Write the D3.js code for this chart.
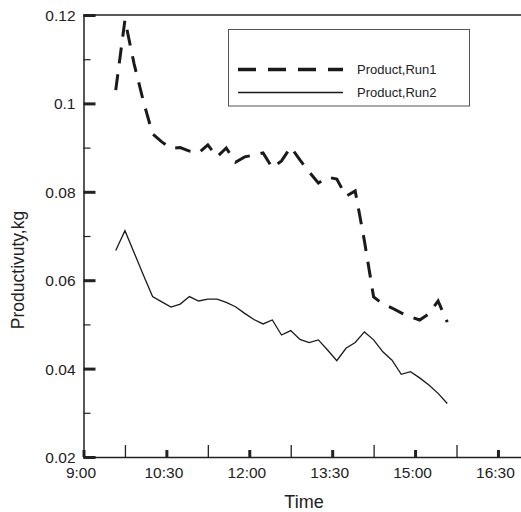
<!DOCTYPE html>
<html>
<head>
<meta charset="utf-8">
<script src="https://cdn.jsdelivr.net/npm/d3@7"></script>
<style>
  body { margin: 0; background: #fff; }
  svg text { font-family: "Liberation Sans", Arial, sans-serif; fill: #222; }
</style>
</head>
<body>
<div id="chart"></div>
<script>
// sample times (every 10 min)
const times = ["9:35","9:45","9:55","10:05","10:15","10:25","10:35","10:45","10:55","11:05",
  "11:15","11:25","11:35","11:45","11:55","12:05","12:15","12:25","12:35","12:45",
  "12:55","13:05","13:15","13:25","13:35","13:45","13:55","14:05","14:15","14:25",
  "14:35","14:45","14:55","15:05","15:15","15:25","15:35"];

// Product, Run1 (dashed)
const run1 = [0.1030,0.1189,0.1089,0.1005,0.0931,0.0913,0.0898,0.0900,0.0892,0.0888,
  0.0906,0.0879,0.0899,0.0867,0.0879,0.0883,0.0888,0.0854,0.0870,0.0901,
  0.0872,0.0845,0.0820,0.0833,0.0829,0.0790,0.0802,0.0689,0.0562,0.0546,
  0.0537,0.0526,0.0517,0.0510,0.0524,0.0553,0.0505];

// Product, Run2 (solid)
const run2 = [0.0667,0.0712,0.0662,0.0612,0.0563,0.0551,0.0539,0.0546,0.0563,0.0553,
  0.0557,0.0557,0.0550,0.0540,0.0525,0.0511,0.0501,0.0510,0.0476,0.0486,
  0.0466,0.0459,0.0465,0.0442,0.0418,0.0446,0.0459,0.0483,0.0465,0.0438,
  0.0419,0.0387,0.0393,0.0379,0.0363,0.0344,0.0321];

const xMajor = ["9:00","10:30","12:00","13:30","15:00","16:30"];
const xMinor = ["9:45","11:15","12:45","14:15","15:45"];
const yMajor = [0.02, 0.04, 0.06, 0.08, 0.1, 0.12];
const yMinor = [0.03, 0.05, 0.07, 0.09, 0.11];
const yLabels = ["0.02","0.04","0.06","0.08","0.1","0.12"];
const seriesNames = ["Product,Run1", "Product,Run2"];

const W = 521, H = 512;
const parse = d3.timeParse("%H:%M");

const svg = d3.select("#chart").append("svg")
    .attr("width", W)
    .attr("height", H);

const x = d3.scaleTime()
    .domain([parse("9:00"), parse("17:15")])
    .range([83.5, 539.4]);
const y = d3.scaleLinear()
    .domain([0.02, 0.12])
    .range([457, 15]);

// frame (top + right, right is off-screen)
svg.append("line")
    .attr("x1", 83.5).attr("x2", W)
    .attr("y1", y(0.12)).attr("y2", y(0.12))
    .attr("stroke", "#222").attr("stroke-width", 1.5);

// x axis: minor ticks (tall thin)
svg.append("g")
    .attr("transform", "translate(0," + y(0.02) + ")")
    .call(d3.axisBottom(x).tickValues(xMinor.map(parse)).tickSize(-12).tickFormat(""))
    .call(g => g.select(".domain").remove())
    .call(g => g.selectAll(".tick line").attr("stroke", "#222").attr("stroke-width", 1.3));

// x axis: major ticks (short thick)
svg.append("g")
    .attr("transform", "translate(0," + y(0.02) + ")")
    .call(d3.axisBottom(x).tickValues(xMajor.map(parse)).tickSize(-7).tickFormat((d, i) => xMajor[i]))
    .call(g => g.select(".domain").attr("stroke", "#222").attr("stroke-width", 1.5))
    .call(g => g.selectAll(".tick line").attr("stroke", "#222").attr("stroke-width", 3))
    .call(g => g.selectAll(".tick text")
        .attr("y", 21).attr("dx", -3).attr("dy", 0)
        .style("font-size", "15.5px").style("fill", "#222"));

// y axis: minor ticks
svg.append("g")
    .attr("transform", "translate(83.5,0)")
    .call(d3.axisLeft(y).tickValues(yMinor).tickSize(-7).tickFormat(""))
    .call(g => g.select(".domain").remove())
    .call(g => g.selectAll(".tick line").attr("stroke", "#222").attr("stroke-width", 1.2));

// y axis: major ticks
svg.append("g")
    .attr("transform", "translate(83.5,0)")
    .call(d3.axisLeft(y).tickValues(yMajor).tickSize(-12).tickFormat((d, i) => yLabels[i]))
    .call(g => g.select(".domain").attr("stroke", "#222").attr("stroke-width", 1.5))
    .call(g => g.selectAll(".tick line").attr("stroke", "#222").attr("stroke-width", 3))
    .call(g => g.selectAll(".tick text")
        .attr("x", -8).attr("dy", "0.36em")
        .style("font-size", "15.5px").style("fill", "#222"));

// axis titles
svg.append("text")
    .attr("x", 304).attr("y", 508)
    .attr("text-anchor", "middle")
    .style("font-size", "18px")
    .text("Time");

svg.append("text")
    .attr("transform", "translate(24,270) rotate(-90)")
    .attr("text-anchor", "middle")
    .style("font-size", "17.5px")
    .text("Productivuty,kg");

// lines
const line = d3.line()
    .x((d, i) => x(parse(times[i])))
    .y(d => y(d));

svg.append("path")
    .datum(run1)
    .attr("d", line)
    .attr("fill", "none")
    .attr("stroke", "#1a1a1a")
    .attr("stroke-width", 3)
    .attr("stroke-dasharray", "16,11");

svg.append("path")
    .datum(run2)
    .attr("d", line)
    .attr("fill", "none")
    .attr("stroke", "#1a1a1a")
    .attr("stroke-width", 1.3);

// legend
const legend = svg.append("g");
legend.append("rect")
    .attr("x", 228.5).attr("y", 29.5)
    .attr("width", 241).attr("height", 76.5)
    .attr("fill", "#fff")
    .attr("stroke", "#555").attr("stroke-width", 1);

const legendRows = [
    {name: seriesNames[0], y: 69.5, dash: "18,12", w: 3.5},
    {name: seriesNames[1], y: 92.5, dash: null, w: 1.3}
];
legendRows.forEach(r => {
    legend.append("line")
        .attr("x1", 238).attr("x2", 343)
        .attr("y1", r.y).attr("y2", r.y)
        .attr("stroke", "#1a1a1a")
        .attr("stroke-width", r.w)
        .attr("stroke-dasharray", r.dash);
    legend.append("text")
        .attr("x", 357).attr("y", r.y + 4.5)
        .style("font-size", "13px")
        .text(r.name);
});
</script>
</body>
</html>
